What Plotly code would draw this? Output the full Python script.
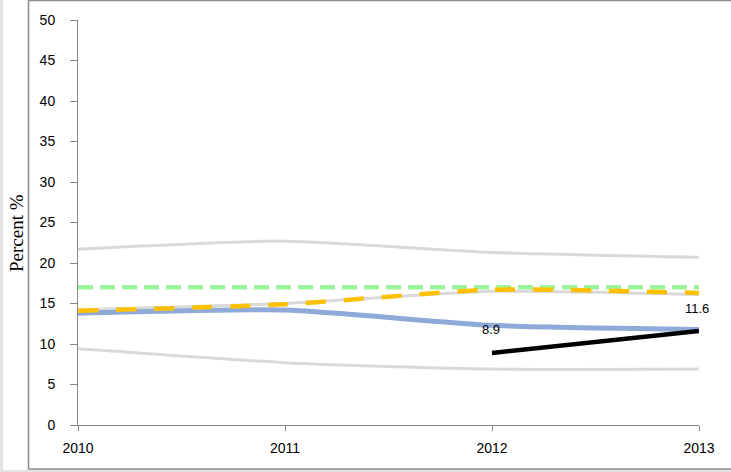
import plotly.graph_objects as go

years = [2010, 2011, 2012, 2013]
upper_gray = [21.7, 22.7, 21.3, 20.7]
middle_gray = [14.2, 15.0, 16.5, 16.1]
lower_gray = [9.4, 7.7, 6.9, 6.9]
target = [17.0, 17.0, 17.0, 17.0]
orange = [14.1, 14.9, 16.7, 16.3]
blue = [13.8, 14.2, 12.3, 11.8]
black_years = [2012, 2013]
black = [8.9, 11.6]
black_labels = ["8.9", "11.6"]
y_ticks = [0, 5, 10, 15, 20, 25, 30, 35, 40, 45, 50]
x_ticks = [2010, 2011, 2012, 2013]

W, H = 731, 472
L, R, T, B = 78, 32, 20, 47
pw, ph = W - L - R, H - T - B

def px(x):
    return (x - L) / pw

def py(y):
    return (H - B - y) / ph

fig = go.Figure()
gray = "#d9d9d9"
for series in (upper_gray, lower_gray, middle_gray):
    fig.add_trace(go.Scatter(x=years, y=series, mode="lines",
                             line=dict(color=gray, width=3, shape="spline", smoothing=0.6), hoverinfo="skip"))
fig.add_trace(go.Scatter(x=years, y=blue, mode="lines", line=dict(color="#8eaad8", width=5, shape="spline", smoothing=0.6)))
fig.add_trace(go.Scatter(x=years, y=target, mode="lines", line=dict(color="#9cf59c", width=4.5, dash="15px,7px")))
fig.add_trace(go.Scatter(x=years, y=orange, mode="lines", line=dict(color="#ffc000", width=4.5, dash="20px,18px", shape="spline", smoothing=0.6)))
fig.add_trace(go.Scatter(x=black_years, y=black, mode="lines", line=dict(color="#000000", width=4.5)))

label_font = dict(family="Liberation Sans, Arial", size=13, color="#000")
for xv, yv, tx in zip(black_years, black, black_labels):
    fig.add_annotation(x=xv, y=yv, text=tx, showarrow=False, yshift=23, xshift=-2 if xv == 2013 else -1,
                       font=label_font, yanchor="middle")

axis_font = dict(family="Liberation Sans, Arial", size=14, color="#000")
fig.update_xaxes(range=[2010, 2013], tickvals=x_ticks, ticktext=[str(v) for v in x_ticks],
                 showgrid=False, zeroline=False, showline=True, linecolor="#868686", linewidth=1,
                 ticks="outside", ticklen=5, tickcolor="#868686", tickfont=axis_font,
                 ticklabelstandoff=5)
fig.update_yaxes(range=[0, 50], tickvals=y_ticks, showgrid=False, zeroline=False, showline=True,
                 linecolor="#868686", linewidth=1, ticks="outside", ticklen=7, tickcolor="#868686",
                 tickfont=axis_font, ticklabelstandoff=12)

fig.add_annotation(xref="paper", yref="paper", x=px(16), y=py(233), text="Percent %", textangle=-90,
                   xanchor="center", yanchor="middle",
                   showarrow=False, font=dict(family="Liberation Serif, Times New Roman", size=19, color="#000"))

shapes = [
    dict(type="rect", xref="paper", yref="paper", x0=px(0), x1=px(3), y0=py(H), y1=py(0),
         fillcolor="#e3e3e3", line=dict(width=0), layer="below"),
    dict(type="rect", xref="paper", yref="paper", x0=px(0), x1=px(W), y0=py(H), y1=py(470),
         fillcolor="#e3e3e3", line=dict(width=0), layer="below"),
    dict(type="rect", xref="paper", yref="paper", x0=px(28.5), x1=px(740), y0=py(469), y1=py(0.5),
         fillcolor="rgba(0,0,0,0)", line=dict(color="#8c8c8c", width=1.5), layer="below"),
]

fig.update_layout(width=W, height=H, margin=dict(l=L, r=R, t=T, b=B, autoexpand=False),
                  paper_bgcolor="white", plot_bgcolor="white", showlegend=False, shapes=shapes)
fig.write_html("out.html", config={"displayModeBar": False},
               post_script="document.body.style.margin='0';document.body.style.overflow='hidden';")
